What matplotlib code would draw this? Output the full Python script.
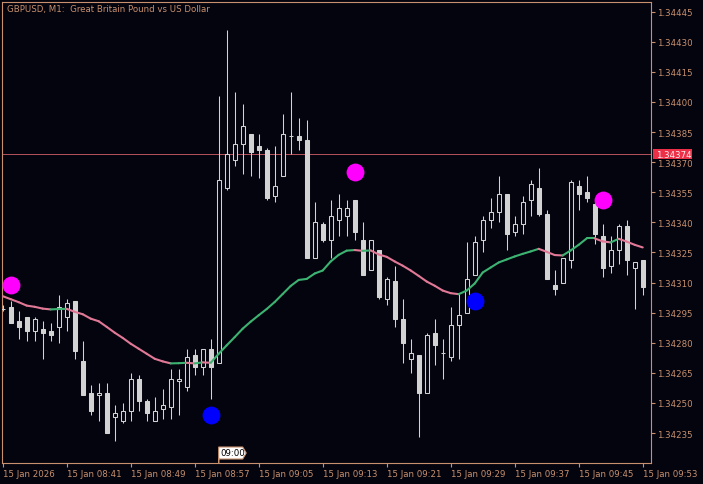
import matplotlib
matplotlib.use('Agg')
import matplotlib.pyplot as plt
from matplotlib.patches import Rectangle, Polygon
from matplotlib.collections import LineCollection
import matplotlib.transforms as mtransforms

# ---------------- data ----------------
opens = [1.34297, 1.34298, 1.34291, 1.34293, 1.34286, 1.34287, 1.34286, 1.34288, 1.34293, 1.34301,
         1.34271, 1.34255, 1.34254, 1.34255, 1.34243, 1.34241, 1.34246, 1.34262, 1.34251, 1.34241,
         1.34247, 1.34248, 1.34261, 1.34258, 1.34274, 1.34268, 1.34277, 1.34270, 1.34357, 1.34371,
         1.34379, 1.34384, 1.34378, 1.34376, 1.34353, 1.34363, 1.34383, 1.34383, 1.34381, 1.34322,
         1.34339, 1.34331, 1.34341, 1.34343, 1.34351, 1.34331, 1.34316, 1.34326, 1.34302, 1.34311,
         1.34292, 1.34272, 1.34274, 1.34255, 1.34285, 1.34275, 1.34273, 1.34289, 1.34295, 1.34314,
         1.34331, 1.34341, 1.34345, 1.34354, 1.34335, 1.34339, 1.34351, 1.34357, 1.34344, 1.34309,
         1.34310, 1.34321, 1.34358, 1.34355, 1.34349, 1.34333, 1.34318, 1.34326, 1.34338, 1.34317,
         1.34321]
highs = [1.34299, 1.34301, 1.34296, 1.34293, 1.34293, 1.34291, 1.34290, 1.34304, 1.34302, 1.34301,
         1.34281, 1.34259, 1.34260, 1.34260, 1.34249, 1.34250, 1.34265, 1.34264, 1.34252, 1.34253,
         1.34257, 1.34267, 1.34267, 1.34277, 1.34277, 1.34277, 1.34282, 1.34403, 1.34436, 1.34405,
         1.34399, 1.34384, 1.34384, 1.34377, 1.34378, 1.34394, 1.34405, 1.34392, 1.34391, 1.34350,
         1.34340, 1.34351, 1.34354, 1.34351, 1.34351, 1.34340, 1.34331, 1.34326, 1.34313, 1.34318,
         1.34302, 1.34282, 1.34274, 1.34285, 1.34292, 1.34282, 1.34298, 1.34305, 1.34330, 1.34333,
         1.34343, 1.34352, 1.34363, 1.34354, 1.34343, 1.34353, 1.34361, 1.34367, 1.34346, 1.34316,
         1.34322, 1.34361, 1.34361, 1.34363, 1.34352, 1.34339, 1.34333, 1.34339, 1.34341, 1.34320,
         1.34321]
lows = [1.34296, 1.34290, 1.34282, 1.34281, 1.34281, 1.34272, 1.34281, 1.34280, 1.34286, 1.34272,
        1.34254, 1.34244, 1.34241, 1.34235, 1.34231, 1.34240, 1.34241, 1.34246, 1.34241, 1.34241,
        1.34242, 1.34242, 1.34244, 1.34256, 1.34264, 1.34264, 1.34252, 1.34270, 1.34356, 1.34368,
        1.34364, 1.34363, 1.34362, 1.34351, 1.34350, 1.34363, 1.34374, 1.34376, 1.34322, 1.34322,
        1.34330, 1.34322, 1.34333, 1.34333, 1.34331, 1.34314, 1.34316, 1.34302, 1.34299, 1.34288,
        1.34270, 1.34265, 1.34233, 1.34255, 1.34269, 1.34262, 1.34271, 1.34272, 1.34295, 1.34314,
        1.34325, 1.34337, 1.34340, 1.34326, 1.34333, 1.34334, 1.34343, 1.34343, 1.34312, 1.34304,
        1.34310, 1.34317, 1.34346, 1.34350, 1.34329, 1.34313, 1.34315, 1.34319, 1.34314, 1.34297,
        1.34304]
closes = [1.34297, 1.34290, 1.34288, 1.34286, 1.34292, 1.34285, 1.34284, 1.34298, 1.34300, 1.34276,
          1.34254, 1.34246, 1.34255, 1.34235, 1.34245, 1.34246, 1.34262, 1.34251, 1.34245, 1.34246,
          1.34249, 1.34262, 1.34262, 1.34273, 1.34268, 1.34277, 1.34268, 1.34361, 1.34374, 1.34379,
          1.34388, 1.34375, 1.34376, 1.34352, 1.34358, 1.34384, 1.34383, 1.34381, 1.34322, 1.34340,
          1.34331, 1.34343, 1.34347, 1.34347, 1.34335, 1.34314, 1.34331, 1.34303, 1.34312, 1.34292,
          1.34280, 1.34275, 1.34255, 1.34284, 1.34279, 1.34275, 1.34289, 1.34294, 1.34312, 1.34330,
          1.34341, 1.34345, 1.34354, 1.34334, 1.34339, 1.34350, 1.34359, 1.34344, 1.34312, 1.34307,
          1.34322, 1.34360, 1.34354, 1.34352, 1.34334, 1.34317, 1.34326, 1.34338, 1.34321, 1.34320,
          1.34308]
ma_values = [1.343032, 1.343017, 1.343002, 1.342985, 1.342979, 1.342970, 1.342966, 1.342968, 1.342969, 1.342954,
             1.342942, 1.342920, 1.342907, 1.342879, 1.342850, 1.342824, 1.342795, 1.342770, 1.342745, 1.342720,
             1.342707, 1.342697, 1.342698, 1.342700, 1.342697, 1.342702, 1.342700, 1.342745, 1.342787, 1.342828,
             1.342870, 1.342905, 1.342937, 1.342968, 1.343003, 1.343043, 1.343083, 1.343113, 1.343118, 1.343145,
             1.343160, 1.343205, 1.343238, 1.343259, 1.343262, 1.343258, 1.343260, 1.343240, 1.343228, 1.343205,
             1.343184, 1.343160, 1.343133, 1.343105, 1.343084, 1.343060, 1.343047, 1.343042, 1.343060, 1.343095,
             1.343150, 1.343175, 1.343200, 1.343215, 1.343230, 1.343243, 1.343255, 1.343268, 1.343253, 1.343237,
             1.343235, 1.343260, 1.343288, 1.343320, 1.343320, 1.343305, 1.343300, 1.343318, 1.343304, 1.343288,
             1.343275]

sell_idx = [1, 44, 75]
sell_price = [1.34309, 1.34365, 1.34351]
buy_idx = [26, 59]
buy_price = [1.34244, 1.34301]

x_tick_idx = [0, 8, 16, 24, 32, 40, 48, 56, 64, 72, 80]
x_tick_labels = ['15 Jan 2026', '15 Jan 08:41', '15 Jan 08:49', '15 Jan 08:57', '15 Jan 09:05',
                 '15 Jan 09:13', '15 Jan 09:21', '15 Jan 09:29', '15 Jan 09:37', '15 Jan 09:45',
                 '15 Jan 09:53']
y_tick_labels = ['1.34235', '1.34250', '1.34265', '1.34280', '1.34295', '1.34310', '1.34325',
                 '1.34340', '1.34355', '1.34370', '1.34385', '1.34400', '1.34415', '1.34430', '1.34445']
hline_price = 1.34374
marker_idx = 27
marker_label = '09:00'
title = 'GBPUSD, M1:  Great Britain Pound vs US Dollar'

# ---------------- style ----------------
W, H = 703, 485
BG = '#04040f'
AXC = '#c8906c'
CANDLE = '#d3d3d3'
UPC = '#3cb371'
DNC = '#e07896'
HLC = '#b0505a'
FS = 6.2

plt.rcParams['font.family'] = ['DejaVu Sans']

fig = plt.figure(figsize=(W / 100, H / 100), dpi=100, facecolor=BG)
L, R, T, B = 2.3, 650.7, 2.7, 464.0
ax = fig.add_axes([L / W, 1 - B / H, (R - L) / W, (B - T) / H], facecolor=BG)
ax.set_xlim(-0.05, 81.0)
ax.set_ylim(1.3422005, 1.3444998)

for s in ax.spines.values():
    s.set_color(AXC)
    s.set_linewidth(0.8)

# horizontal line
ax.axhline(hline_price, color=HLC, lw=0.72, zorder=1)

# candles
n = len(opens)
lw = 0.75
for k in range(n):
    o, h, l, c = opens[k], highs[k], lows[k], closes[k]
    ax.plot([k, k], [l, h], color=CANDLE, lw=lw, zorder=2, solid_capstyle='butt')
    top, bot = max(o, c), min(o, c)
    fc = BG if c >= o else CANDLE
    ax.add_patch(Rectangle((k - 0.25, bot), 0.5, top - bot, facecolor=fc,
                           edgecolor=CANDLE, lw=lw, zorder=3))

# moving average line coloured by slope
segs, cols = [], []
for k in range(1, n):
    segs.append([(k - 1, ma_values[k - 1]), (k, ma_values[k])])
    cols.append(UPC if ma_values[k] >= ma_values[k - 1] else DNC)
ax.add_collection(LineCollection(segs, colors=cols, linewidths=1.5, zorder=4, capstyle='round'))

# signals
ax.scatter(sell_idx, sell_price, s=165, color='#ff00ff', zorder=5, linewidths=0)
ax.scatter(buy_idx, buy_price, s=165, color='#0000ff', zorder=5, linewidths=0)

# ticks
yt = [float(v) for v in y_tick_labels]
ax.yaxis.tick_right()
ax.set_yticks(yt, y_tick_labels)
ax.set_xticks(x_tick_idx, x_tick_labels)
ax.tick_params(axis='y', direction='out', length=3, width=0.8, colors=AXC, labelsize=FS, pad=1.2)
ax.tick_params(axis='x', direction='out', length=3, width=0.8, colors=AXC, labelsize=FS, pad=1.5)
for lbl in ax.get_xticklabels():
    lbl.set_horizontalalignment('left')

# title
ax.annotate(title, xy=(0, 1), xycoords='axes fraction', xytext=(4.4, -7.0),
            textcoords='offset pixels', ha='left', va='center', color=AXC, fontsize=FS)

# price label on the right axis
fig.canvas.draw()
ypix = ax.transData.transform((0, hline_price))[1]
rx = ax.transAxes.transform((1, 0))[0]
fig.add_artist(Rectangle((rx + 2.0, ypix - 4.7), 39.3, 9.4, facecolor='#ee2f48', edgecolor='none',
                         transform=mtransforms.IdentityTransform(), zorder=10))
fig.text(rx + 5.0, ypix, '{:.5f}'.format(hline_price), transform=mtransforms.IdentityTransform(),
         ha='left', va='center', color='#fff0f0', fontsize=FS, zorder=11)

# 09:00 marker at bottom of the chart
mx = ax.transData.transform((marker_idx, 0))[0]
by = ax.transAxes.transform((0, 0))[1]
poly = [(mx, by), (mx, by + 16), (mx + 24, by + 16), (mx + 27.5, by + 10),
        (mx + 24, by + 4), (mx, by + 4)]
fig.add_artist(Polygon(poly, closed=True, facecolor='white', edgecolor=AXC, lw=0.8,
                       transform=mtransforms.IdentityTransform(), zorder=10))
fig.text(mx + 2.0, by + 10, marker_label, transform=mtransforms.IdentityTransform(),
         ha='left', va='center', color='black', fontsize=FS, zorder=11)

fig.savefig('out.png', dpi=100, facecolor=BG)
